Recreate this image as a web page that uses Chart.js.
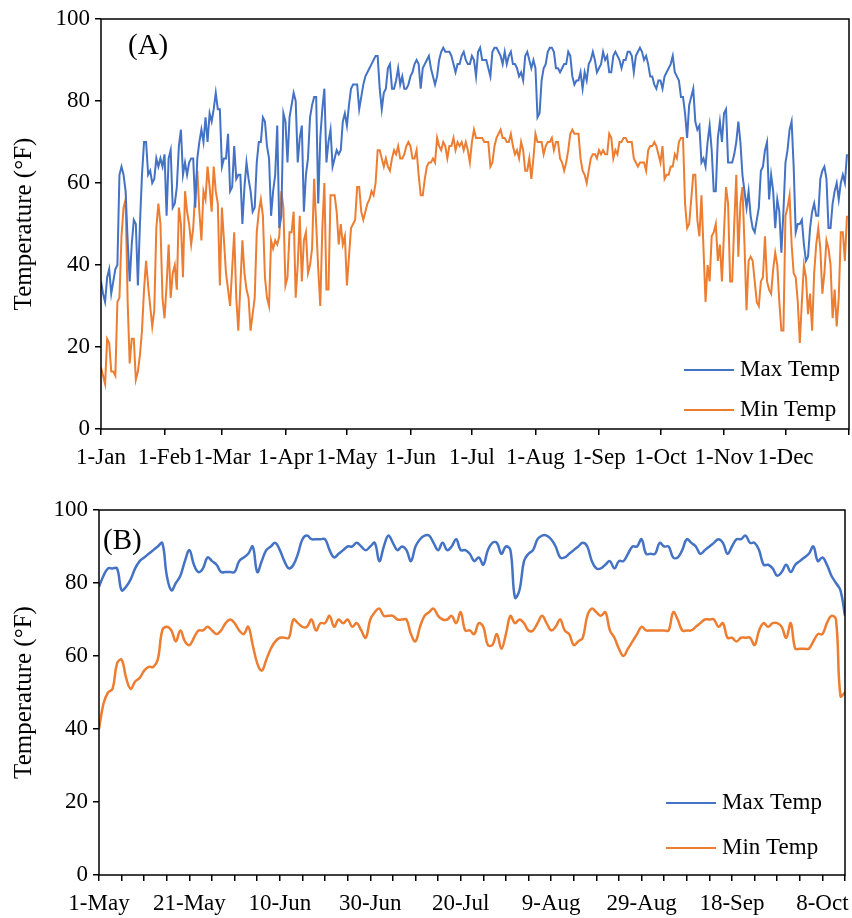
<!DOCTYPE html>
<html>
<head>
<meta charset="utf-8">
<script src="https://cdn.jsdelivr.net/npm/chart.js@4.4.1/dist/chart.umd.min.js"></script>
<style>
  body { margin: 0; background: #fff; }
  #wrapA { position: absolute; left: 0; top: 0; width: 852px; height: 470px; }
  #wrapB { position: absolute; left: 0; top: 470px; width: 852px; height: 448px; }
</style>
</head>
<body>
<div id="wrapA"><canvas id="chartA" width="852" height="470"></canvas></div>
<div id="wrapB"><canvas id="chartB" width="852" height="448"></canvas></div>
<script>
// panel A: whole year, one value per day (deg F)
const maxTempA = [
  36,33,31,37,39,33,36,39,40,62, 64,62,58,46,36,45,51,50,35,50,
  62,70,70,62,63,60,61,66,64,66, 64,67,52,66,68,54,55,59,69,73,
  62,65,62,65,66,66,54,66,70,73, 70,76,70,77,75,78,82,78,78,64,
  66,66,72,58,59,69,61,62,62,50, 59,65,61,58,53,54,65,70,70,76,
  75,69,66,52,58,62,74,49,52,77, 75,65,76,79,82,80,65,71,74,53,
  62,66,76,79,81,81,55,71,78,83, 65,70,73,64,66,68,67,68,75,77,
  74,79,83,84,84,84,78,81,84,86, 87,88,89,90,91,91,83,78,82,83,
  88,89,83,83,85,88,84,86,83,83, 84,86,87,89,90,89,83,88,89,90,
  91,88,86,84,86,90,92,93,92,92, 92,91,89,87,89,89,91,92,90,89,
  89,91,90,86,92,93,90,90,90,88, 86,92,93,93,92,91,89,92,89,91,
  92,89,89,88,86,87,85,91,92,90, 88,90,88,76,77,85,88,89,92,93,
  93,92,88,88,87,88,89,89,92,91, 86,84,85,85,87,83,87,85,89,90,
  92,90,87,88,89,92,90,91,87,87, 91,92,91,90,88,90,90,92,92,91,
  87,91,92,93,92,90,91,89,86,86, 84,83,85,85,83,86,87,88,89,91,
  87,86,85,81,81,77,71,79,81,83, 75,73,74,65,66,64,70,74,68,58,
  58,71,75,70,77,78,65,65,65,67, 70,75,70,62,58,54,58,52,49,48,
  51,54,63,64,68,70,56,62,58,49, 56,53,43,53,65,68,73,75,64,48,
  50,50,51,45,41,42,49,53,55,52, 52,61,63,64,61,49,49,55,58,60,
  56,60,62,60,67
];
const minTempA = [
  15,13,11,22,21,14,14,13,31,32, 47,54,56,31,16,22,22,12,14,18,
  24,34,41,35,30,25,29,49,55,50, 32,27,35,45,32,38,40,34,54,50,
  37,58,53,50,45,49,58,63,53,46, 58,56,64,59,53,64,58,55,35,54,
  46,38,34,30,39,48,32,24,35,46, 38,34,32,24,28,32,48,53,56,52,
  37,32,30,46,44,46,45,47,58,54, 35,37,48,48,53,32,40,52,36,46,
  48,38,40,44,61,50,39,30,49,60, 34,34,57,57,57,53,45,50,45,47,
  35,42,49,50,51,59,59,53,51,53, 55,56,58,57,60,68,68,66,64,66,
  64,63,66,68,67,69,66,66,67,69, 70,69,66,66,68,62,57,57,61,64,
  65,65,66,65,71,69,68,70,69,66, 69,69,71,68,70,69,70,68,70,68,
  65,70,73,71,71,71,71,70,70,70, 64,65,69,71,72,73,71,71,70,70,
  72,69,67,68,66,70,68,63,63,66, 61,66,72,70,70,70,67,69,70,70,
  71,68,70,70,66,65,63,65,68,72, 73,72,72,72,66,63,62,60,63,66,
  67,67,66,68,67,68,67,67,72,71, 66,68,67,70,70,71,71,70,70,70,
  66,65,64,65,65,65,63,68,69,69, 70,69,67,65,69,61,62,62,64,64,
  67,66,70,71,71,55,49,50,56,62, 62,51,47,57,44,31,40,36,47,48,
  50,41,45,36,48,59,55,36,36,50, 62,42,55,59,45,29,41,42,41,36,
  31,30,36,37,47,36,34,33,39,43, 40,31,24,24,52,54,57,45,38,37,
  31,21,31,40,37,28,33,24,38,45, 49,44,33,38,46,44,40,27,34,25,
  32,48,48,41,52
];
const monthStarts = [0, 31, 59, 90, 120, 151, 181, 212, 243, 273, 304, 334, 365];
const monthLabels = ['1-Jan', '1-Feb', '1-Mar', '1-Apr', '1-May', '1-Jun', '1-Jul', '1-Aug', '1-Sep', '1-Oct', '1-Nov', '1-Dec'];

// panel B: 1 May onwards, one value per day (deg F)
const maxTempB = [
  79,82,84,84,84,78,79,81,84,86, 87,88,89,90,91,82,78,80,82,86,
  89,85,83,84,87,86,85,83,83,83, 83,86,87,88,90,83,86,89,90,91,
  89,86,84,85,88,92,93,92,92,92, 92,89,87,88,89,90,90,91,90,89,
  90,91,86,90,93,91,89,90,89,86, 90,92,93,93,91,89,91,89,90,92,
  89,89,88,86,87,85,89,91,91,88, 90,89,76,78,86,88,89,92,93,93,
  92,90,87,87,88,89,90,91,90,86, 84,84,85,86,84,86,86,88,90,90,
  92,88,88,88,91,90,90,87,87,89, 92,91,90,88,89,90,91,92,91,88,
  90,92,92,93,91,91,89,85,85,84, 82,83,85,83,85,86,87,88,90,86,
  87,85,82,80,78,71
];
const minTempB = [
  40,47,50,51,58,59,54,51,53,54, 56,57,57,59,67,68,67,64,67,64,
  63,65,67,67,68,67,66,67,69,70, 69,67,66,68,63,58,56,59,62,64,
  65,65,65,70,69,68,68,70,67,69, 69,71,68,70,69,70,68,69,67,65,
  70,72,73,71,71,71,70,70,70,66, 64,68,71,72,73,71,70,70,71,69,
  72,67,67,66,69,68,63,63,66,62, 66,71,69,70,69,67,67,69,71,69,
  67,68,70,67,66,63,64,65,71,73, 72,71,72,67,65,62,60,62,64,66,
  68,67,67,67,67,67,67,72,70,67, 67,67,68,69,70,70,70,68,69,65,
  65,64,65,65,65,63,67,69,68,69, 69,68,65,69,62,62,62,62,64,66,
  66,69,71,70,49,50
];
const monthNames = ['Jan', 'Feb', 'Mar', 'Apr', 'May', 'Jun', 'Jul', 'Aug', 'Sep', 'Oct', 'Nov', 'Dec'];

const daysA = maxTempA.map((v, i) => i);
const daysB = maxTempB.map((v, i) => i);
const datesB = daysB.map(i => {
  const d = new Date(2021, 4, 1 + i);
  return d.getDate() + '-' + monthNames[d.getMonth()];
});

const serif = "'Liberation Serif', 'Times New Roman', serif";
const blue = '#4472C4';
const orange = '#ED7D31';

// box round the plot, panel letter and the legend drawn inside the plot
const frameAndLegend = {
  id: 'frameAndLegend',
  afterDatasetsDraw(chart, args, opts) {
    const { ctx, chartArea: a } = chart;
    ctx.save();
    ctx.strokeStyle = '#000';
    ctx.lineWidth = 1.5;
    ctx.strokeRect(a.left, a.top, a.right - a.left, a.bottom - a.top);

    ctx.fillStyle = '#000';
    ctx.font = '29px ' + serif;
    ctx.textBaseline = 'alphabetic';
    ctx.fillText(opts.panel, a.left + opts.panelX, a.top + opts.panelY);

    ctx.font = '23px ' + serif;
    ctx.textBaseline = 'middle';
    chart.data.datasets.forEach((ds, i) => {
      const x = a.right - opts.legendRight;
      const y = a.bottom - opts.legendBottom + i * opts.legendGap;
      ctx.strokeStyle = ds.borderColor;
      ctx.lineWidth = 2;
      ctx.beginPath();
      ctx.moveTo(x, y);
      ctx.lineTo(x + 50, y);
      ctx.stroke();
      ctx.fillText(ds.label, x + 56, y);
    });
    ctx.restore();
  }
};

function yAxis(width) {
  return {
    min: 0,
    max: 100,
    afterFit: s => { s.width = width; },
    border: { display: false },
    grid: { drawOnChartArea: false, color: '#000', lineWidth: 1.5, tickLength: 6 },
    ticks: { stepSize: 20, padding: 5, color: '#000', font: { family: serif, size: 23 } },
    title: {
      display: true,
      text: 'Temperature (°F)',
      color: '#000',
      font: { family: serif, size: 25 },
      padding: { top: 9, bottom: 0 }
    }
  };
}

function xAxis(height, ticksAt, label, max) {
  return {
    type: 'linear',
    min: 0,
    max: max,
    afterBuildTicks: s => { s.ticks = ticksAt.map(v => ({ value: v })); },
    afterFit: s => {
      s.height = height;
      s.paddingLeft = 0;
      s.paddingRight = 0;
    },
    border: { display: false },
    grid: { drawOnChartArea: false, color: '#000', lineWidth: 1.5, tickLength: 6 },
    ticks: {
      autoSkip: false, maxRotation: 0, minRotation: 0, padding: 9,
      color: '#000', font: { family: serif, size: 23 },
      callback: label
    }
  };
}

new Chart(document.getElementById('chartA'), {
  type: 'line',
  data: {
    labels: daysA,
    datasets: [
      { label: 'Max Temp', data: maxTempA, borderColor: blue, borderWidth: 2, pointRadius: 0, tension: 0 },
      { label: 'Min Temp', data: minTempA, borderColor: orange, borderWidth: 2, pointRadius: 0, tension: 0 }
    ]
  },
  options: {
    responsive: false,
    animation: false,
    layout: { autoPadding: false, padding: { top: 19, right: 3, left: 0, bottom: 0 } },
    plugins: {
      legend: { display: false },
      tooltip: { enabled: false },
      frameAndLegend: { panel: '(A)', panelX: 27, panelY: 35, legendRight: 165, legendBottom: 59, legendGap: 40 }
    },
    scales: {
      x: xAxis(41, monthStarts, (v, i) => monthLabels[i] || '', 365),
      y: yAxis(101)
    }
  },
  plugins: [frameAndLegend]
});

new Chart(document.getElementById('chartB'), {
  type: 'line',
  data: {
    labels: daysB,
    datasets: [
      { label: 'Max Temp', data: maxTempB, borderColor: blue, borderWidth: 2.5, pointRadius: 0, tension: 0.4 },
      { label: 'Min Temp', data: minTempB, borderColor: orange, borderWidth: 2.5, pointRadius: 0, tension: 0.4 }
    ]
  },
  options: {
    responsive: false,
    animation: false,
    layout: { autoPadding: false, padding: { top: 40, right: 7, left: 0, bottom: 0 } },
    plugins: {
      legend: { display: false },
      tooltip: { enabled: false },
      frameAndLegend: { panel: '(B)', panelX: 4, panelY: 39, legendRight: 179, legendBottom: 72, legendGap: 45 }
    },
    scales: {
      x: xAxis(43, daysB.filter(d => d % 5 === 0), v => (v % 20 === 0 ? datesB[v] : ''), daysB.length - 1),
      y: yAxis(99)
    }
  },
  plugins: [frameAndLegend]
});
</script>
</body>
</html>
